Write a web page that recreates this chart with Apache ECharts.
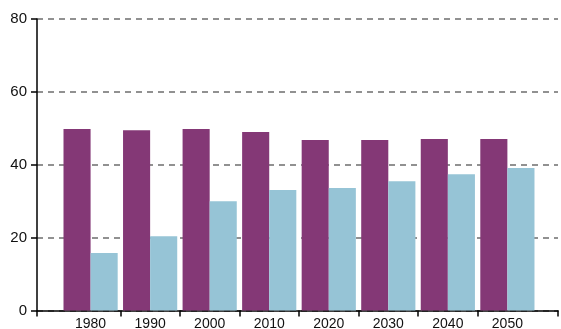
<!DOCTYPE html>
<html>
<head>
<meta charset="utf-8">
<script src="https://cdn.jsdelivr.net/npm/echarts@6/dist/echarts.min.js"></script>
<style>
  html, body { margin: 0; padding: 0; background: #fff; }
  #chart { width: 561px; height: 329px; }
</style>
</head>
<body>
<div id="chart"></div>
<script>
// Decades shown on the horizontal axis
const years = [1980, 1990, 2000, 2010, 2020, 2030, 2040, 2050];
// First series (purple bars)
const seriesA = [49.8, 49.5, 49.8, 49.0, 46.8, 46.8, 47.1, 47.1];
// Second series (light blue bars)
const seriesB = [15.8, 20.4, 30.0, 33.1, 33.6, 35.5, 37.4, 39.1];
// Tick marks between the decades and at the axis ends
const xTicks = [1971, 1985, 1995, 2005, 2015, 2025, 2035, 2045, 2058.5];
const xMin = 1971;
const xMax = 2058.5;
// Vertical axis
const yTicks = [0, 20, 40, 60, 80];

const font = '"Liberation Sans", Arial, sans-serif';
const chart = echarts.init(document.getElementById('chart'), null, { renderer: 'canvas' });

chart.setOption({
  animation: false,
  backgroundColor: '#ffffff',
  grid: { left: 37, right: 3, top: 19, bottom: 18.5, containLabel: false, outerBoundsMode: 'none' },
  xAxis: {
    type: 'value',
    min: xMin,
    max: xMax,
    axisLine: { show: true, onZero: false, lineStyle: { color: '#000', width: 1.5 } },
    axisTick: { show: true, length: 6, inside: false, customValues: xTicks, lineStyle: { color: '#000', width: 1.5 } },
    axisLabel: {
      show: true,
      customValues: years,
      formatter: v => String(v),
      color: '#111',
      fontSize: 14,
      fontFamily: font,
      margin: 7
    },
    splitLine: { show: false }
  },
  yAxis: {
    type: 'value',
    min: yTicks[0],
    max: yTicks[yTicks.length - 1],
    interval: 20,
    axisLine: { show: true, lineStyle: { color: '#000', width: 1.5 } },
    axisTick: { show: true, length: 6, lineStyle: { color: '#000', width: 1.5 } },
    axisLabel: { color: '#111', fontSize: 15, fontFamily: font, margin: 10 },
    splitLine: { show: true, lineStyle: { color: '#6e6e6e', width: 1.5, type: [6, 5] } }
  },
  series: [
    {
      type: 'bar',
      data: years.map((y, i) => [y, seriesA[i]]),
      barGap: '0%',
      barCategoryGap: '9%',
      itemStyle: { color: '#843876' }
    },
    {
      type: 'bar',
      data: years.map((y, i) => [y, seriesB[i]]),
      barGap: '0%',
      barCategoryGap: '9%',
      itemStyle: { color: '#96c4d6' }
    }
  ]
});
</script>
</body>
</html>
